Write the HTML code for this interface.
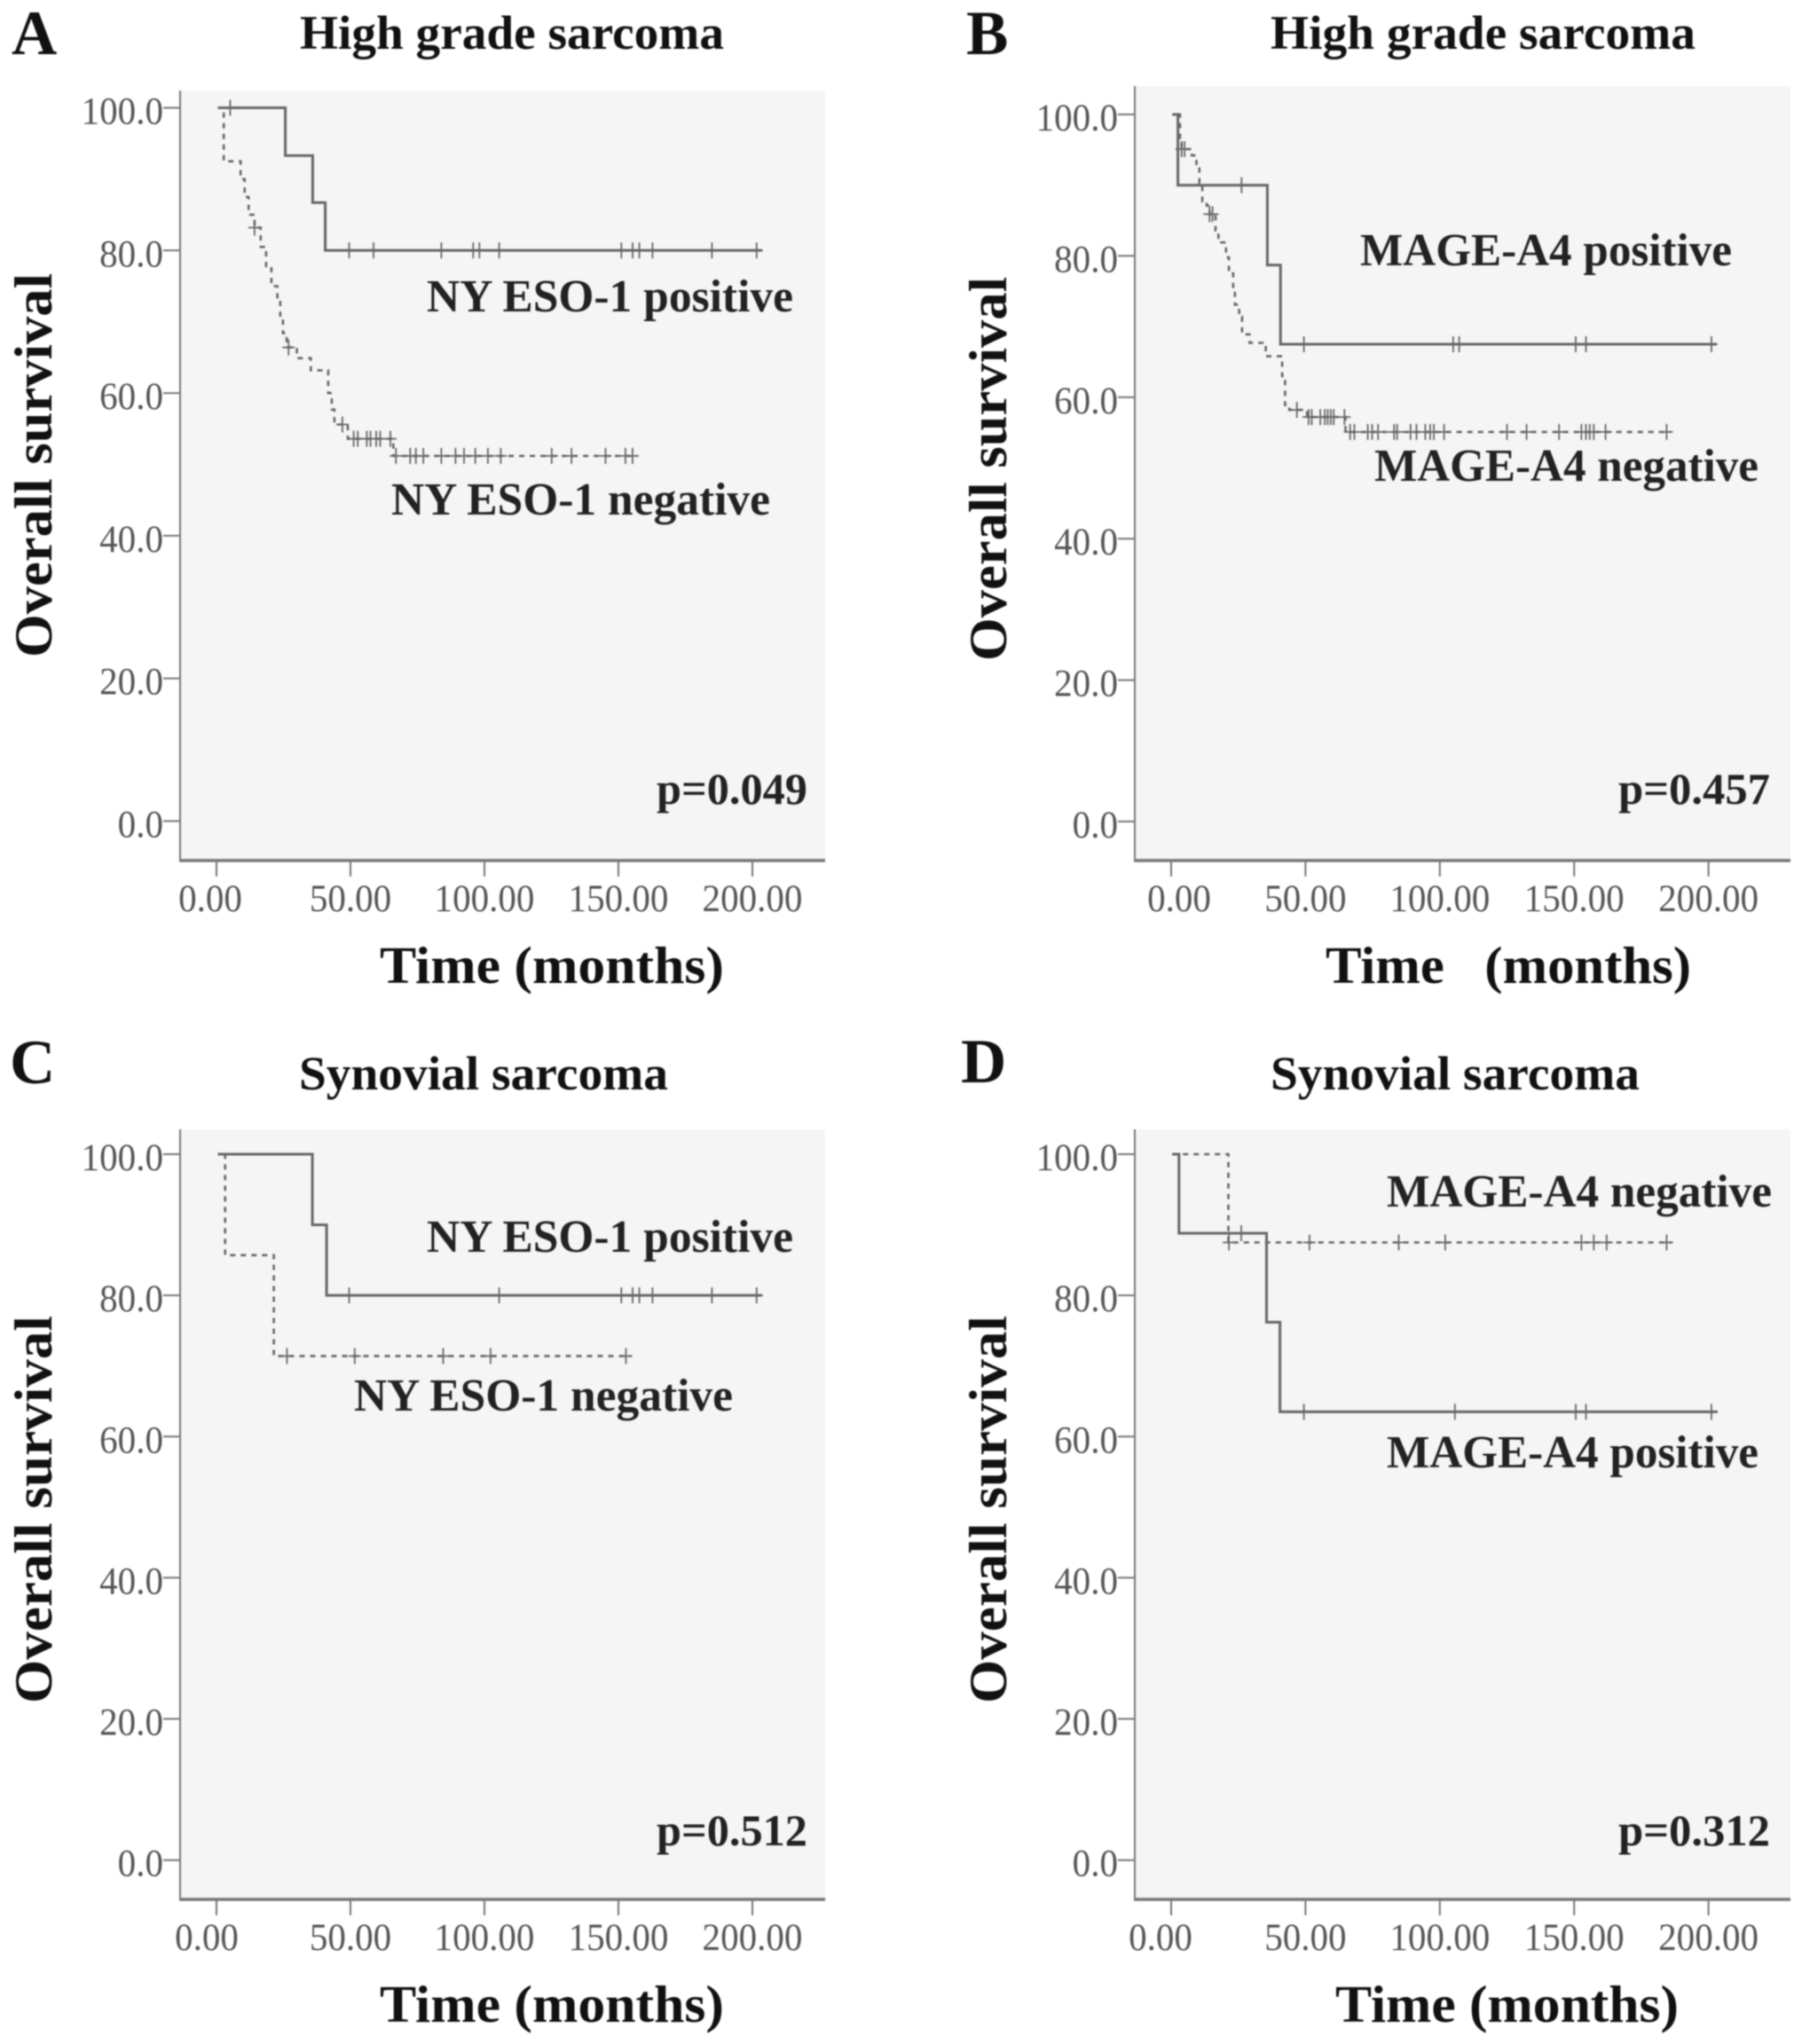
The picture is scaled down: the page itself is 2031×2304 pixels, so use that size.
<!DOCTYPE html>
<html lang="en">
<head>
<meta charset="utf-8">
<title>Overall survival Kaplan-Meier curves</title>
<style>
html,body{margin:0;padding:0;background:#fff;width:2031px;height:2304px;overflow:hidden}
svg{display:block;filter:blur(0.85px)}
text{font-family:"Liberation Serif",serif}
.title{font-size:54px;font-weight:bold;fill:#111}
.letter{font-size:71px;font-weight:bold;fill:#111}
.ann{font-size:52px;font-weight:bold;fill:#222}
.pv{font-size:50px;font-weight:bold;fill:#222}
.xt{font-size:59px;font-weight:bold;fill:#111}
.yt{font-size:60px;font-weight:bold;fill:#111}
.tick{font-size:43px;fill:#555}
</style>
</head>
<body>
<svg id="figure" xmlns="http://www.w3.org/2000/svg" width="2031" height="2304" viewBox="0 0 2031 2304">
  <rect width="2031" height="2304" fill="#fff"/>
  <g id="panel-a">
    <rect x="203" y="102" width="727" height="868" fill="#f5f5f5"/>
    <text class="letter" x="13" y="61">A</text>
    <text class="title" x="338" y="55" textLength="478">High grade sarcoma</text>
    <text class="yt" transform="translate(58,741) rotate(-90)" textLength="433">Overall survival</text>
    <text class="xt" x="428" y="1108" textLength="388">Time (months)</text>
    <text class="ann" x="481" y="351" textLength="413">NY ESO-1 positive</text>
    <text class="ann" x="441" y="580" textLength="427">NY ESO-1 negative</text>
    <text class="pv" x="740" y="906" textLength="170">p=0.049</text>
  </g>
  <g id="panel-b">
    <rect x="1279" y="97" width="739" height="873" fill="#f5f5f5"/>
    <text class="letter" x="1089" y="61">B</text>
    <text class="title" x="1432" y="55" textLength="479">High grade sarcoma</text>
    <text class="yt" transform="translate(1134,745) rotate(-90)" textLength="433">Overall survival</text>
    <text class="xt" x="1494" y="1108" textLength="412" xml:space="preserve">Time   (months)</text>
    <text class="ann" x="1533" y="299" textLength="419">MAGE-A4 positive</text>
    <text class="ann" x="1549" y="542" textLength="433">MAGE-A4 negative</text>
    <text class="pv" x="1824" y="906" textLength="171">p=0.457</text>
  </g>
  <g id="panel-c">
    <rect x="203" y="1273" width="727" height="868" fill="#f5f5f5"/>
    <text class="letter" x="11" y="1221">C</text>
    <text class="title" x="337" y="1228" textLength="416">Synovial sarcoma</text>
    <text class="yt" transform="translate(58,1920) rotate(-90)" textLength="437">Overall survival</text>
    <text class="xt" x="428" y="2279" textLength="388">Time (months)</text>
    <text class="ann" x="481" y="1411" textLength="413">NY ESO-1 positive</text>
    <text class="ann" x="399" y="1590" textLength="427">NY ESO-1 negative</text>
    <text class="pv" x="740" y="2080" textLength="170">p=0.512</text>
  </g>
  <g id="panel-d">
    <rect x="1279" y="1273" width="739" height="868" fill="#f5f5f5"/>
    <text class="letter" x="1083" y="1220">D</text>
    <text class="title" x="1432" y="1228" textLength="416">Synovial sarcoma</text>
    <text class="yt" transform="translate(1134,1920) rotate(-90)" textLength="437">Overall survival</text>
    <text class="xt" x="1505" y="2279" textLength="387">Time (months)</text>
    <text class="ann" x="1563" y="1360" textLength="434">MAGE-A4 negative</text>
    <text class="ann" x="1563" y="1654" textLength="419">MAGE-A4 positive</text>
    <text class="pv" x="1824" y="2080" textLength="171">p=0.312</text>
  </g>
</svg>
<script>
// Axis tick values and labels
const yTickValues = [100, 80, 60, 40, 20, 0];
const yTickLabels = ["100.0", "80.0", "60.0", "40.0", "20.0", "0.0"];
const xTickValues = [0, 50, 100, 150, 200];
const xTickLabels = ["0.00", "50.00", "100.00", "150.00", "200.00"];

// Panel A
const aPosTimes = [0.5, 25.7, 35.9, 40.6, 203.5];
const aPosSurvival = [100, 93.3, 86.7, 80, 80];
const aPosCensored = [5.1, 49.5, 58.6, 83.9, 95.8, 98.1, 105.5, 151.1, 155.3, 157.8, 162.7, 184.9, 201.6];
const aNegTimes = [0.5, 2.7, 9, 10.5, 12, 14.2, 16.5, 18.5, 20.5, 22.7, 23.8, 24.8, 26.2, 30, 35.2, 41.7, 43, 44, 49, 66, 157];
const aNegSurvival = [100, 92.5, 90, 87.5, 85, 83.2, 80.5, 77.5, 75, 73, 70.5, 68.4, 66.4, 64.9, 63.2, 60, 57.7, 55.6, 53.6, 51.2, 51.2];
const aNegCensored = [14.2, 26.9, 47, 51.2, 52.7, 56.1, 57.5, 59.6, 61.1, 64.9, 67, 72.3, 74.4, 77.2, 83.9, 89.2, 92.4, 96.6, 101.3, 106.1, 125.1, 132.5, 145.2, 152.6, 155.3];

// Panel B
const bPosTimes = [0.4, 2.5, 35.8, 40.7, 203];
const bPosSurvival = [100, 90, 78.7, 67.5, 67.5];
const bPosCensored = [26.2, 49.4, 105, 107.2, 150.6, 154.4, 201.1];
const bNegTimes = [2.5, 3.3, 3.9, 7.7, 9.4, 10.5, 11.6, 13.2, 14.3, 16.5, 17.6, 20.4, 21.5, 23.1, 23.7, 25.3, 26.4, 29.2, 34.7, 35.2, 41.3, 42.4, 44, 50.6, 64.9, 186];
const bNegSurvival = [100, 96.5, 95.1, 94.2, 92.8, 90.3, 87.7, 87.1, 85.9, 83.6, 81.9, 79.8, 77.5, 75.6, 73.1, 71.4, 68.9, 67.7, 67.3, 65.8, 63, 58.9, 58.2, 57.2, 55.1, 55.1];
const bNegCensored = [3.9, 5, 14.3, 15.4, 46.8, 51.2, 52.3, 55.5, 57.2, 58.3, 59.4, 60.5, 64.5, 66.6, 68.2, 73.2, 74.8, 77, 83, 84.1, 89.1, 91.3, 94.6, 96.4, 97.8, 101.6, 125, 132.3, 144.4, 152.7, 154.4, 155.8, 157.3, 161.7, 184.4];

// Panel C
const cPosTimes = [0.5, 35.8, 41.1, 203.5];
const cPosSurvival = [100, 90, 80, 80];
const cPosCensored = [49.5, 105.5, 151.1, 155.3, 157.8, 162.7, 184.9, 201.6];
const cNegTimes = [3, 3.2, 21.4, 154.7];
const cNegSurvival = [100, 85.7, 71.4, 71.4];
const cNegCensored = [26.3, 51.6, 84.6, 102.3, 152.8];

// Panel D
const dPosTimes = [0.4, 2.9, 35.5, 40.5, 203.4];
const dPosSurvival = [100, 88.8, 76.2, 63.5, 63.5];
const dPosCensored = [26.1, 49.4, 105.6, 150.6, 154.4, 201.1];
const dNegTimes = [0.4, 21.3, 186.5];
const dNegSurvival = [100, 87.5, 87.5];
const dNegCensored = [21.5, 51.5, 84.7, 102, 152.7, 157.3, 162.1, 184.4];

const SVG_NS = "http://www.w3.org/2000/svg";

function makeXScale(x0, x200) {
  return function (t) { return x0 + t * (x200 - x0) / 200; };
}
function makeYScale(y0, y100) {
  return function (s) { return y0 + s * (y100 - y0) / 100; };
}
function survivalAt(times, survival, t) {
  let s = survival[0];
  for (let i = 0; i < times.length; i++) {
    if (times[i] <= t) s = survival[i];
  }
  return s;
}
function stepPath(times, survival, x, y) {
  let d = "M" + x(times[0]).toFixed(1) + " " + y(survival[0]).toFixed(1);
  for (let i = 1; i < times.length; i++) {
    d += "H" + x(times[i]).toFixed(1) + "V" + y(survival[i]).toFixed(1);
  }
  return d;
}
function node(parent, tag, attrs) {
  const el = document.createElementNS(SVG_NS, tag);
  for (const k in attrs) el.setAttribute(k, attrs[k]);
  parent.appendChild(el);
  return el;
}

function drawAxes(panelId, g, box, x, y, zeroLabelX) {
  const axisColor = "#777";
  const leftAxis = node(g, "line", { x1: box.left, x2: box.left, y1: box.top, y2: box.bottom + 1, stroke: axisColor, "stroke-width": 2 });
  
  
  const bottomAxis = node(g, "line", { x1: box.left - 1, x2: box.right, y1: box.bottom, y2: box.bottom, stroke: axisColor, "stroke-width": 3.5 });
  
  
  yTickValues.forEach(function (v, i) {
    const tick = node(g, "line", { x1: box.left - 19, x2: box.left, y1: y(v), y2: y(v), stroke: axisColor, "stroke-width": 2 });
    
    
    const label = node(g, "text", { class: "tick", transform: "translate(" + (box.left - 19) + "," + (y(v) + 18) + ") scale(0.955,1)", "text-anchor": "end" });
    
    
    label.textContent = yTickLabels[i];
  });
  xTickValues.forEach(function (v, i) {
    const tick = node(g, "line", { x1: x(v), x2: x(v), y1: box.bottom, y2: box.bottom + 18, stroke: axisColor, "stroke-width": 2 });
    
    
    const label = node(g, "text", { class: "tick", transform: "translate(" + (i === 0 ? zeroLabelX : x(v)) + "," + (box.bottom + 57) + ") scale(0.955,1)", "text-anchor": "middle" });
    
    
    label.textContent = xTickLabels[i];
  });
}

function drawSeries(g, times, survival, censored, x, y, dashed, name) {
  const group = node(g, "g", {});
  
  
  const attrs = { d: stepPath(times, survival, x, y), fill: "none", stroke: "#666", "stroke-width": dashed ? 2.6 : 3 };
  if (dashed) attrs["stroke-dasharray"] = "6 6";
  const line = node(group, "path", attrs);
  
  
  censored.forEach(function (t) {
    const px = x(t);
    const py = y(survivalAt(times, survival, t));
    const mark = node(group, "path", {
      d: "M" + px.toFixed(1) + " " + (py - 9).toFixed(1) + "V" + (py + 9).toFixed(1) + "M" + (px - 7).toFixed(1) + " " + py.toFixed(1) + "H" + (px + 7).toFixed(1),
      stroke: "#666", "stroke-width": 1.8, fill: "none"
    });
    
    
  });
}

function drawPanel(id, box, x0, x200, y0, y100, zeroLabelX, series) {
  const g = document.getElementById(id);
  const x = makeXScale(x0, x200);
  const y = makeYScale(y0, y100);
  drawAxes(id, g, box, x, y, zeroLabelX);
  series.forEach(function (s) {
    drawSeries(g, s.times, s.survival, s.censored, x, y, s.dashed, s.name);
  });
}

document.querySelectorAll("text[textLength]").forEach(function (t) {
  t.setAttribute("lengthAdjust", "spacingAndGlyphs");
});

drawPanel("panel-a", { left: 203, right: 930, top: 102, bottom: 970 }, 244, 848, 925.5, 121.5, 237, [
  { times: aNegTimes, survival: aNegSurvival, censored: aNegCensored, dashed: true, name: "curve-negative-a" },
  { times: aPosTimes, survival: aPosSurvival, censored: aPosCensored, dashed: false, name: "curve-positive-a" }
]);
drawPanel("panel-b", { left: 1279, right: 2018, top: 97, bottom: 970 }, 1320, 1925.6, 926, 129, 1329, [
  { times: bNegTimes, survival: bNegSurvival, censored: bNegCensored, dashed: true, name: "curve-negative-b" },
  { times: bPosTimes, survival: bPosSurvival, censored: bPosCensored, dashed: false, name: "curve-positive-b" }
]);
drawPanel("panel-c", { left: 203, right: 930, top: 1273, bottom: 2141 }, 244, 848, 2096.7, 1301, 233, [
  { times: cNegTimes, survival: cNegSurvival, censored: cNegCensored, dashed: true, name: "curve-negative-c" },
  { times: cPosTimes, survival: cPosSurvival, censored: cPosCensored, dashed: false, name: "curve-positive-c" }
]);
drawPanel("panel-d", { left: 1279, right: 2018, top: 1273, bottom: 2141 }, 1320, 1925.6, 2096.7, 1301, 1308, [
  { times: dNegTimes, survival: dNegSurvival, censored: dNegCensored, dashed: true, name: "curve-negative-d" },
  { times: dPosTimes, survival: dPosSurvival, censored: dPosCensored, dashed: false, name: "curve-positive-d" }
]);
</script>
</body>
</html>
